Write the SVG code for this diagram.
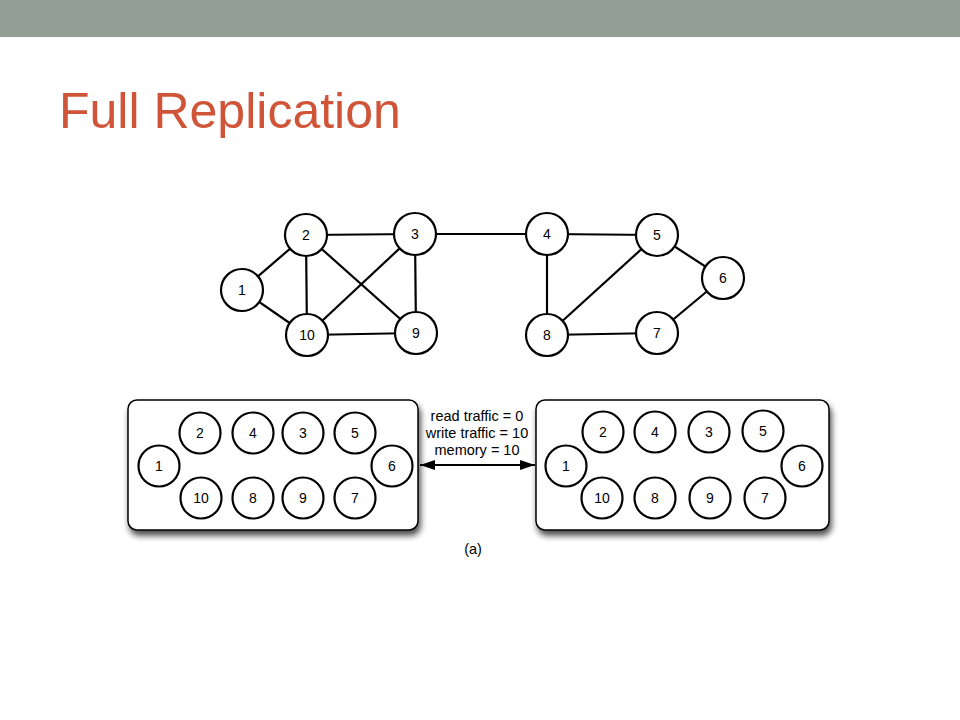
<svg xmlns="http://www.w3.org/2000/svg" width="960" height="720" viewBox="0 0 960 720">
<defs>
<style>
.n{fill:#fff;stroke:#000;stroke-width:2.2}
.t{font-family:"Liberation Sans",Arial,sans-serif;font-size:14px;text-anchor:middle;fill:#000}
.e{stroke:#000;stroke-width:2.2;fill:none}
.box{fill:#fff;stroke:#000;stroke-width:1.5}
.lab{font-family:"Liberation Sans",Arial,sans-serif;font-size:14.5px;text-anchor:middle;fill:#000}
</style>
<filter id="sh" x="-10%" y="-10%" width="130%" height="140%">
<feGaussianBlur in="SourceAlpha" stdDeviation="3"/>
<feOffset dx="2" dy="5" result="b"/>
<feComponentTransfer><feFuncA type="linear" slope="0.7"/></feComponentTransfer>
<feMerge><feMergeNode/><feMergeNode in="SourceGraphic"/></feMerge>
</filter>
<marker id="ah" viewBox="0 0 15 10" refX="15" refY="5" markerWidth="7.5" markerHeight="5" orient="auto-start-reverse" markerUnits="strokeWidth">
<path d="M0,0 L15,5 L0,10 z" fill="#000"/>
</marker>
</defs>
<rect x="0" y="0" width="960" height="720" fill="#fff"/>
<rect x="0" y="0" width="960" height="37" fill="#919F96"/>
<text x="59" y="128" font-family="'Liberation Sans',Arial,sans-serif" font-size="50" fill="#D05538">Full Replication</text>

<g id="connectors">
<line class="e" x1="242" y1="290" x2="306" y2="235"/>
<line class="e" x1="242" y1="290" x2="307" y2="335"/>
<line class="e" x1="306" y1="235" x2="415" y2="234"/>
<line class="e" x1="306" y1="235" x2="307" y2="335"/>
<line class="e" x1="306" y1="235" x2="416" y2="333"/>
<line class="e" x1="415" y1="234" x2="307" y2="335"/>
<line class="e" x1="415" y1="234" x2="416" y2="333"/>
<line class="e" x1="307" y1="335" x2="416" y2="333"/>
<line class="e" x1="415" y1="234" x2="547" y2="234"/>
<line class="e" x1="547" y1="234" x2="657" y2="235"/>
<line class="e" x1="547" y1="234" x2="547" y2="335"/>
<line class="e" x1="657" y1="235" x2="547" y2="335"/>
<line class="e" x1="657" y1="235" x2="723" y2="278"/>
<line class="e" x1="723" y1="278" x2="657" y2="333"/>
<line class="e" x1="547" y1="335" x2="657" y2="333"/>
<line x1="420" y1="465" x2="535" y2="465" stroke="#000" stroke-width="2" marker-start="url(#ah)" marker-end="url(#ah)"/>
</g>

<g id="g1"><circle class="n" cx="242" cy="290" r="21"/><text class="t" x="242" y="295">1</text></g>
<g id="g2"><circle class="n" cx="306" cy="235" r="21"/><text class="t" x="306" y="240">2</text></g>
<g id="g3"><circle class="n" cx="415" cy="234" r="21"/><text class="t" x="415" y="239">3</text></g>
<g id="g4"><circle class="n" cx="547" cy="234" r="21"/><text class="t" x="547" y="239">4</text></g>
<g id="g5"><circle class="n" cx="657" cy="235" r="21"/><text class="t" x="657" y="240">5</text></g>
<g id="g6"><circle class="n" cx="723" cy="278" r="21"/><text class="t" x="723" y="283">6</text></g>
<g id="g7"><circle class="n" cx="657" cy="333" r="21"/><text class="t" x="657" y="338">7</text></g>
<g id="g8"><circle class="n" cx="547" cy="335" r="21"/><text class="t" x="547" y="340">8</text></g>
<g id="g9"><circle class="n" cx="416" cy="333" r="21"/><text class="t" x="416" y="338">9</text></g>
<g id="g10"><circle class="n" cx="307" cy="335" r="21"/><text class="t" x="307" y="340">10</text></g>

<g id="boxL">
<rect class="box" x="128" y="400" width="290" height="130" rx="9" filter="url(#sh)"/>
<circle class="n" cx="159" cy="466" r="20.5"/><text class="t" x="159" y="471">1</text>
<circle class="n" cx="200" cy="433" r="20.5"/><text class="t" x="200" y="438">2</text>
<circle class="n" cx="253" cy="433" r="20.5"/><text class="t" x="253" y="438">4</text>
<circle class="n" cx="303" cy="433" r="20.5"/><text class="t" x="303" y="438">3</text>
<circle class="n" cx="355" cy="433" r="20.5"/><text class="t" x="355" y="438">5</text>
<circle class="n" cx="392" cy="466" r="20.5"/><text class="t" x="392" y="471">6</text>
<circle class="n" cx="201" cy="498" r="20.5"/><text class="t" x="201" y="503">10</text>
<circle class="n" cx="253" cy="498" r="20.5"/><text class="t" x="253" y="503">8</text>
<circle class="n" cx="303" cy="498" r="20.5"/><text class="t" x="303" y="503">9</text>
<circle class="n" cx="355" cy="498" r="20.5"/><text class="t" x="355" y="503">7</text>
</g>

<g id="boxR">
<rect class="box" x="536" y="400" width="293" height="130" rx="9" filter="url(#sh)"/>
<circle class="n" cx="566" cy="466" r="20.5"/><text class="t" x="566" y="471">1</text>
<circle class="n" cx="603" cy="432" r="20.5"/><text class="t" x="603" y="437">2</text>
<circle class="n" cx="655" cy="432" r="20.5"/><text class="t" x="655" y="437">4</text>
<circle class="n" cx="709" cy="432" r="20.5"/><text class="t" x="709" y="437">3</text>
<circle class="n" cx="763" cy="431" r="20.5"/><text class="t" x="763" y="436">5</text>
<circle class="n" cx="802" cy="466" r="20.5"/><text class="t" x="802" y="471">6</text>
<circle class="n" cx="602" cy="498" r="20.5"/><text class="t" x="602" y="503">10</text>
<circle class="n" cx="655" cy="498" r="20.5"/><text class="t" x="655" y="503">8</text>
<circle class="n" cx="710" cy="498" r="20.5"/><text class="t" x="710" y="503">9</text>
<circle class="n" cx="765" cy="498" r="20.5"/><text class="t" x="765" y="503">7</text>
</g>

<g id="labels">
<text class="lab" x="477" y="421">read traffic = 0</text>
<text class="lab" x="477" y="438">write traffic = 10</text>
<text class="lab" x="477" y="455">memory = 10</text>
<text class="lab" x="473" y="554">(a)</text>
</g>
</svg>
